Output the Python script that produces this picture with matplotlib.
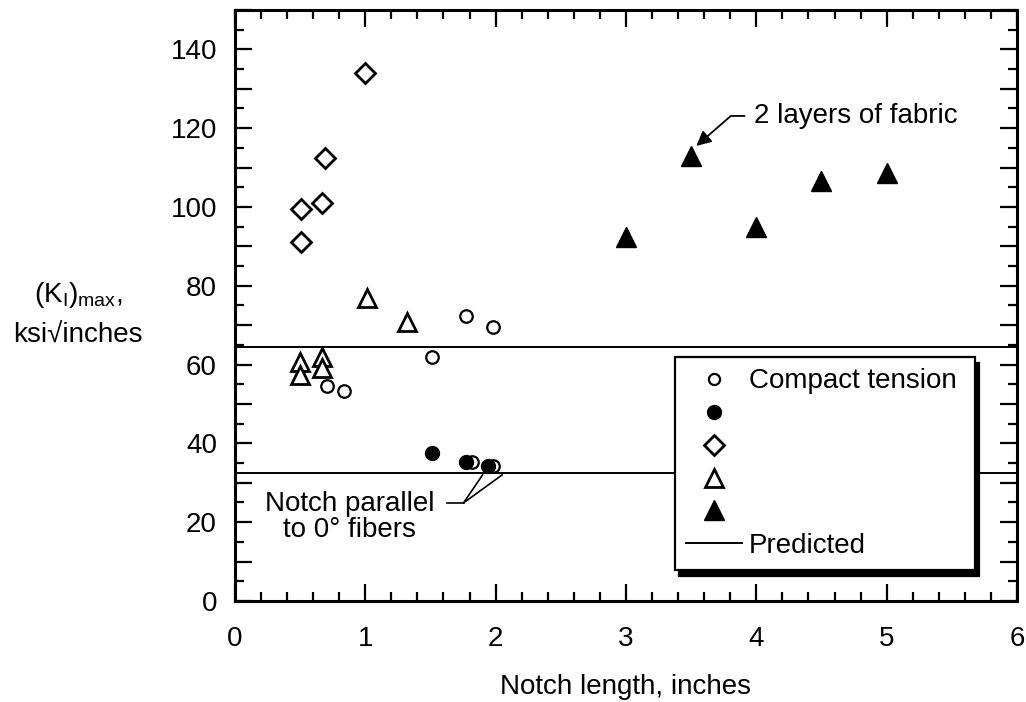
import numpy as np
import matplotlib
matplotlib.use("Agg")
import matplotlib.pyplot as plt
from matplotlib.lines import Line2D
from matplotlib.ticker import MultipleLocator, FuncFormatter

plt.rcParams["font.family"] = ["Liberation Sans", "DejaVu Sans"]
plt.rcParams["mathtext.fontset"] = "custom"
plt.rcParams["mathtext.rm"] = "Liberation Sans"
plt.rcParams["mathtext.it"] = "Liberation Sans"

# ------------------------------
# Data
# ------------------------------
# compact tension, open circles
ct_x = [1.77, 1.98, 1.51, 0.84, 0.71, 1.82, 1.98]
ct_y = [72.3, 69.5, 61.9, 53.3, 54.5, 35.3, 34.3]

# filled circles (notch parallel to 0 deg fibers)
fc_x = [1.51, 1.77, 1.94]
fc_y = [37.6, 35.3, 34.3]

# open diamonds
dm_x = [1.0, 0.69, 0.67, 0.51, 0.51]
dm_y = [134.0, 112.4, 101.0, 99.5, 91.0]

# open triangles
ot_x = [1.01, 1.32, 0.50, 0.50, 0.67, 0.67]
ot_y = [76.9, 70.8, 60.7, 57.4, 61.9, 59.1]

# filled triangles (2 layers of fabric)
ft_x = [3.0, 3.5, 4.0, 4.5, 5.0]
ft_y = [92.5, 113.0, 95.0, 106.5, 108.5]

# predicted levels
predicted = [64.5, 32.5]

# ------------------------------
# Plot
# ------------------------------
fig = plt.figure(figsize=(10.26, 7.02), dpi=100)
ax = fig.add_axes([0.229, 0.1439, 0.7622, 0.8419])

for p in predicted:
    ax.axhline(p, color="black", lw=1.4, zorder=1)

ax.plot(ct_x, ct_y, "o", ms=9, mfc="white", mec="black", mew=1.6, zorder=3)
ax.plot(fc_x, fc_y, "o", ms=10, mfc="black", mec="black", zorder=3)
ax.plot(dm_x, dm_y, "D", ms=10, mfc="white", mec="black", mew=2, zorder=3)
ax.plot(ot_x, ot_y, "^", ms=13, mfc="white", mec="black", mew=2, zorder=3)
ax.plot(ft_x, ft_y, "^", ms=14, mfc="black", mec="black", zorder=3)

ax.set_xlim(0, 6)
ax.set_ylim(0, 150)
ax.xaxis.set_major_locator(MultipleLocator(1))
ax.xaxis.set_minor_locator(MultipleLocator(0.2))
ax.yaxis.set_major_locator(MultipleLocator(10))
ax.yaxis.set_minor_locator(MultipleLocator(5))
ax.yaxis.set_major_formatter(FuncFormatter(lambda v, pos: "%d" % v if v % 20 == 0 else ""))

ax.tick_params(which="both", direction="in", top=True, right=True, width=1.6, labelsize=20)
ax.tick_params(which="major", length=12)
ax.tick_params(which="minor", length=6.5)
ax.tick_params(axis="y", pad=13)
ax.tick_params(axis="x", pad=18)
for s in ax.spines.values():
    s.set_linewidth(2.2)

ax.set_xlabel("Notch length, inches", fontsize=20, labelpad=16)
fig.text(78 / 1026, 1 - 295 / 702, r"$\mathregular{(K_I)_{max}}$,", fontsize=20,
         ha="center", va="center")
fig.text(78 / 1026, 1 - 336 / 702, "ksi\u221ainches", fontsize=20,
         ha="center", va="center")

# annotations
ax.text(3.98, 123.1, "2 layers of fabric", fontsize=20, ha="left", va="center")
ax.annotate("", xy=(3.54, 115.5), xytext=(3.91, 123.1),
            arrowprops=dict(arrowstyle="-|>", color="black", lw=1.3,
                            mutation_scale=22, shrinkA=0, shrinkB=0,
                            connectionstyle="angle,angleA=0,angleB=41,rad=0"))

ax.text(0.877, 21.3, "Notch parallel\nto 0\u00b0 fibers", fontsize=20,
        ha="center", va="center", linespacing=1.0)
ax.plot([1.63, 1.754], [24.9, 24.9], color="black", lw=1.2)
ax.plot([1.754, 1.90], [24.9, 32.0], color="black", lw=1.2)
ax.plot([1.754, 2.05], [24.9, 32.0], color="black", lw=1.2)

# legend
handles = [
    Line2D([], [], ls="none", marker="o", ms=8, mfc="white", mec="black", mew=1.6),
    Line2D([], [], ls="none", marker="o", ms=10, mfc="black", mec="black"),
    Line2D([], [], ls="none", marker="D", ms=10, mfc="white", mec="black", mew=2),
    Line2D([], [], ls="none", marker="^", ms=13, mfc="white", mec="black", mew=2),
    Line2D([], [], ls="none", marker="^", ms=14, mfc="black", mec="black"),
    Line2D([], [], color="black", lw=1.4),
]
labels = ["Compact tension", " ", " ", " ", " ", "Predicted"]
leg = ax.legend(handles, labels, loc="lower left",
                bbox_to_anchor=(0.563, 0.052, 0.383, 0.354), mode="expand",
                fontsize=20, frameon=True, fancybox=False, framealpha=1,
                edgecolor="black", borderpad=0.4, labelspacing=0.25,
                handlelength=2.0, handletextpad=0.25, borderaxespad=0,
                shadow={"color": "black", "alpha": 1, "ox": 3, "oy": -4})
leg.get_frame().set_linewidth(1.6)
leg.set_zorder(5)

plt.savefig("out.png", dpi=100)
